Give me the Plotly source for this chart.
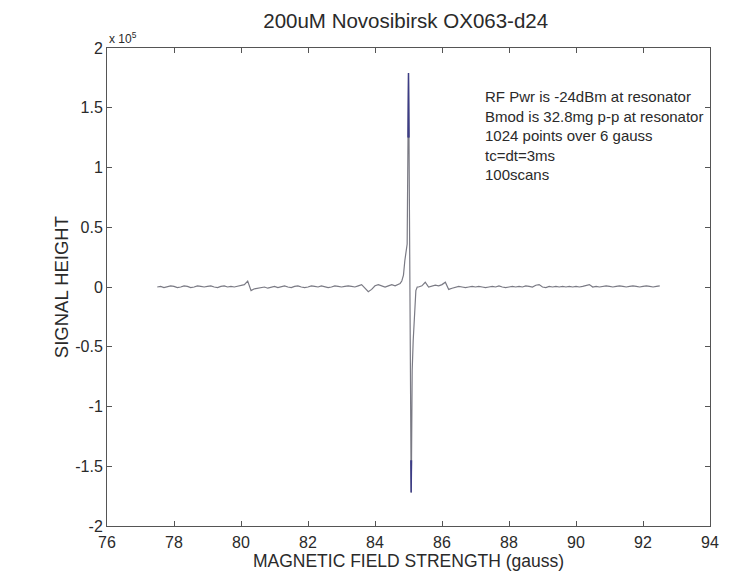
import plotly.graph_objects as go

# EPR trace of 200uM OX063-d24 (signal in units of 1e5)
field_left = [77.5, 77.6, 77.7, 77.8, 77.9, 78.0, 78.1, 78.2, 78.3, 78.4, 78.5, 78.6, 78.7, 78.8, 78.9,
              79.0, 79.1, 79.2, 79.3, 79.4, 79.5, 79.6, 79.7, 79.8, 79.9, 80.0, 80.1, 80.2, 80.3, 80.4,
              80.5, 80.6, 80.7, 80.8, 80.9, 81.0, 81.1, 81.2, 81.3, 81.4, 81.5, 81.6, 81.7, 81.8, 81.9,
              82.0, 82.1, 82.2, 82.3, 82.4, 82.5, 82.6, 82.7, 82.8, 82.9, 83.0, 83.1, 83.2, 83.3, 83.4,
              83.5, 83.6, 83.7, 83.8, 83.9, 84.0, 84.1, 84.2, 84.3, 84.4, 84.5, 84.6, 84.7]
signal_left = [0.00, 0.005, -0.005, 0.00, 0.01, 0.005, -0.005, 0.00, 0.01, 0.005, -0.005, 0.00, 0.01, 0.005, 0.00,
               0.005, 0.01, 0.00, -0.005, 0.005, 0.01, 0.00, 0.005, 0.00, 0.005, 0.01, 0.02, 0.05, -0.03, -0.015,
               -0.01, -0.005, 0.00, -0.01, 0.00, 0.005, -0.005, 0.00, 0.01, 0.00, -0.005, 0.005, 0.01, 0.00, -0.005,
               0.00, 0.01, 0.005, 0.00, 0.01, 0.005, -0.005, 0.00, 0.01, 0.005, 0.00, 0.005, 0.01, 0.005, 0.00,
               0.01, 0.02, -0.01, -0.04, -0.02, 0.01, 0.02, 0.01, 0.00, 0.01, 0.02, 0.01, 0.02]

field_peak = [84.75, 84.80, 84.85, 84.89, 84.93, 84.96, 84.985, 85.00, 85.015, 85.03, 85.055, 85.07,
              85.08, 85.09, 85.11, 85.14, 85.17, 85.19, 85.22, 85.26]
signal_peak = [0.03, 0.05, 0.10, 0.22, 0.32, 0.36, 1.25, 1.79, 1.25, 0.30, -0.80, -1.45,
               -1.72, -1.45, -0.70, -0.45, -0.30, -0.10, -0.03, 0.00]

field_right = [85.3, 85.4, 85.5, 85.6, 85.7, 85.8, 85.9, 86.0, 86.1, 86.2, 86.3, 86.4, 86.5, 86.6, 86.7,
               86.8, 86.9, 87.0, 87.1, 87.2, 87.3, 87.4, 87.5, 87.6, 87.7, 87.8, 87.9, 88.0, 88.1, 88.2,
               88.3, 88.4, 88.5, 88.6, 88.7, 88.8, 88.9, 89.0, 89.1, 89.2, 89.3, 89.4, 89.5, 89.6, 89.7,
               89.8, 89.9, 90.0, 90.1, 90.2, 90.3, 90.4, 90.5, 90.6, 90.7, 90.8, 90.9, 91.0, 91.1, 91.2,
               91.3, 91.4, 91.5, 91.6, 91.7, 91.8, 91.9, 92.0, 92.1, 92.2, 92.3, 92.4, 92.5]
signal_right = [0.00, 0.01, 0.04, 0.00, 0.01, 0.015, 0.01, 0.02, 0.04, -0.02, -0.01, 0.00, 0.005, 0.00, -0.005,
                0.00, 0.005, 0.00, 0.005, 0.00, -0.005, 0.00, 0.005, 0.00, 0.01, 0.00, -0.005, 0.00, 0.005, 0.00,
                0.005, 0.00, 0.01, 0.005, 0.00, 0.015, 0.02, 0.00, -0.005, 0.005, 0.00, 0.005, 0.00, 0.005, 0.00,
                0.005, 0.00, 0.005, 0.00, 0.005, 0.015, 0.02, 0.00, 0.005, 0.00, 0.005, 0.01, 0.005, 0.00, 0.005,
                0.01, 0.005, 0.00, 0.005, 0.01, 0.005, 0.00, 0.005, 0.01, 0.005, 0.00, 0.005, 0.01]

x_ticks = [76, 78, 80, 82, 84, 86, 88, 90, 92, 94]
y_ticks = [-2, -1.5, -1, -0.5, 0, 0.5, 1, 1.5, 2]
y_tick_text = ["-2", "-1.5", "-1", "-0.5", "0", "0.5", "1", "1.5", "2"]

notes = ["RF Pwr is -24dBm at resonator",
         "Bmod is 32.8mg p-p at resonator",
         "1024 points over 6 gauss",
         "tc=dt=3ms",
         "100scans"]

field = field_left + field_peak + field_right
signal = signal_left + signal_peak + signal_right

FONT = "Liberation Sans, Arial, sans-serif"
INK = "#2a2a2a"

fig = go.Figure()
fig.add_trace(go.Scatter(x=field, y=signal, mode="lines",
                         line=dict(color="#7a7a84", width=1.2), showlegend=False))

# darker tips of the narrow central line
top_x = [f for f, s in zip(field_peak, signal_peak) if s >= 1.25]
top_y = [s for s in signal_peak if s >= 1.25]
bot_x = [f for f, s in zip(field_peak, signal_peak) if s <= -1.45]
bot_y = [s for s in signal_peak if s <= -1.45]
for xs, ys in ((top_x, top_y), (bot_x, bot_y)):
    fig.add_trace(go.Scatter(x=xs, y=ys, mode="lines",
                             line=dict(color="#3c3c86", width=1.4), showlegend=False))

axis_common = dict(showline=True, linecolor="#555555", linewidth=1, mirror="ticks",
                   ticks="inside", ticklen=5, tickcolor="#555555", showgrid=False,
                   zeroline=False, tickfont=dict(family=FONT, size=16, color=INK))

fig.update_xaxes(range=[76, 94], tickvals=x_ticks, ticktext=[str(t) for t in x_ticks],
                 ticklabelstandoff=2,
                 title=dict(text="MAGNETIC FIELD STRENGTH (gauss)", font=dict(family=FONT, size=17.5, color=INK),
                            standoff=4), **axis_common)
fig.update_yaxes(range=[-2, 2], tickvals=y_ticks, ticktext=y_tick_text, **axis_common)

# y-axis title placed as a rotated annotation next to the tick labels
fig.add_annotation(xref="paper", yref="paper", x=-0.076, y=0.5, xanchor="center", yanchor="middle",
                   text="SIGNAL HEIGHT", textangle=-90, showarrow=False,
                   font=dict(family=FONT, size=18.5, color=INK))
fig.add_annotation(xref="paper", yref="paper", x=0.0, y=1.0, xanchor="left", yanchor="bottom",
                   text="x 10<sup>5</sup>", showarrow=False, font=dict(family=FONT, size=12, color=INK))
fig.add_annotation(xref="paper", yref="paper", x=0.624, y=0.92, xanchor="left", yanchor="top",
                   align="left", text="<br>".join(notes), showarrow=False,
                   font=dict(family=FONT, size=15, color=INK))

fig.update_layout(
    width=731, height=584,
    margin=dict(l=107, r=19, t=48, b=58),
    paper_bgcolor="white", plot_bgcolor="white",
    title=dict(text="200uM Novosibirsk OX063-d24", x=0.555, xanchor="center", y=0.965, yanchor="middle",
               font=dict(family=FONT, size=20.5, color=INK)),
)

fig.write_html("out.html")
